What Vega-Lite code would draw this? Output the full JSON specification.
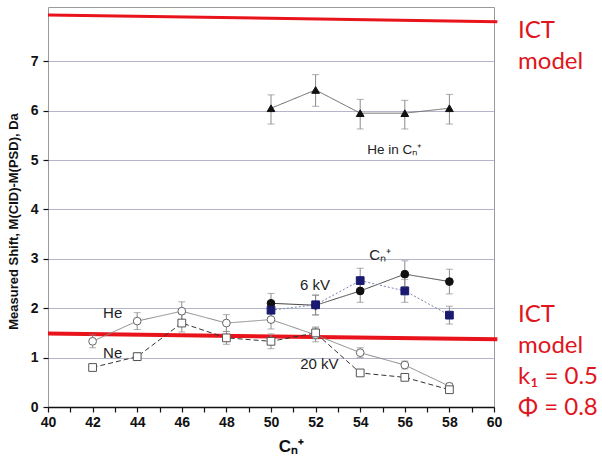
{
  "$schema": "https://vega.github.io/schema/vega-lite/v6.json",
  "width": 446,
  "height": 400,
  "autosize": {"type": "none"},
  "padding": {"left": 48, "top": 7, "right": 108, "bottom": 57},
  "background": "white",
  "config": {"view": {"stroke": "#9a9a9a", "strokeWidth": 1}, "font": "Liberation Sans"},
  "datasets": {
    "obs": [
      {"series": "6 keV, He@Cₙ⁺", "n": 50, "v": 6.05, "lo": 5.73, "hi": 6.32},
      {"series": "6 keV, He@Cₙ⁺", "n": 52, "v": 6.42, "lo": 6.09, "hi": 6.73},
      {"series": "6 keV, He@Cₙ⁺", "n": 54, "v": 5.95, "lo": 5.63, "hi": 6.23},
      {"series": "6 keV, He@Cₙ⁺", "n": 56, "v": 5.95, "lo": 5.63, "hi": 6.21},
      {"series": "6 keV, He@Cₙ⁺", "n": 58, "v": 6.05, "lo": 5.73, "hi": 6.33},
      {"series": "6 keV, target He", "n": 50, "v": 2.10, "lo": 1.90, "hi": 2.30},
      {"series": "6 keV, target He", "n": 52, "v": 2.06, "lo": 1.86, "hi": 2.26},
      {"series": "6 keV, target He", "n": 54, "v": 2.35, "lo": 2.12, "hi": 2.58},
      {"series": "6 keV, target He", "n": 56, "v": 2.69, "lo": 2.44, "hi": 2.96},
      {"series": "6 keV, target He", "n": 58, "v": 2.54, "lo": 2.29, "hi": 2.79},
      {"series": "6 keV, target Ne", "n": 50, "v": 1.96, "lo": 1.80, "hi": 2.12},
      {"series": "6 keV, target Ne", "n": 52, "v": 2.07, "lo": 1.87, "hi": 2.27},
      {"series": "6 keV, target Ne", "n": 54, "v": 2.56, "lo": 2.31, "hi": 2.81},
      {"series": "6 keV, target Ne", "n": 56, "v": 2.35, "lo": 2.12, "hi": 2.58},
      {"series": "6 keV, target Ne", "n": 58, "v": 1.86, "lo": 1.68, "hi": 2.04},
      {"series": "20 keV, target He", "n": 42, "v": 1.33, "lo": 1.20, "hi": 1.46},
      {"series": "20 keV, target He", "n": 44, "v": 1.74, "lo": 1.57, "hi": 1.91},
      {"series": "20 keV, target He", "n": 46, "v": 1.94, "lo": 1.75, "hi": 2.13},
      {"series": "20 keV, target He", "n": 48, "v": 1.70, "lo": 1.53, "hi": 1.87},
      {"series": "20 keV, target He", "n": 50, "v": 1.77, "lo": 1.58, "hi": 1.96},
      {"series": "20 keV, target He", "n": 52, "v": 1.46, "lo": 1.32, "hi": 1.60},
      {"series": "20 keV, target He", "n": 54, "v": 1.10, "lo": 1.00, "hi": 1.20},
      {"series": "20 keV, target He", "n": 56, "v": 0.85, "lo": 0.77, "hi": 0.93},
      {"series": "20 keV, target He", "n": 58, "v": 0.42, "lo": 0.36, "hi": 0.48},
      {"series": "20 keV, target Ne", "n": 42, "v": 0.80, "lo": 0.74, "hi": 0.86},
      {"series": "20 keV, target Ne", "n": 44, "v": 1.02, "lo": 0.94, "hi": 1.10},
      {"series": "20 keV, target Ne", "n": 46, "v": 1.70, "lo": 1.52, "hi": 1.88},
      {"series": "20 keV, target Ne", "n": 48, "v": 1.40, "lo": 1.27, "hi": 1.53},
      {"series": "20 keV, target Ne", "n": 50, "v": 1.33, "lo": 1.18, "hi": 1.48},
      {"series": "20 keV, target Ne", "n": 52, "v": 1.50, "lo": 1.38, "hi": 1.62},
      {"series": "20 keV, target Ne", "n": 54, "v": 0.69, "lo": 0.66, "hi": 0.72},
      {"series": "20 keV, target Ne", "n": 56, "v": 0.60, "lo": 0.57, "hi": 0.63},
      {"series": "20 keV, target Ne", "n": 58, "v": 0.35, "lo": 0.32, "hi": 0.38}
    ],
    "models": [
      {"m": "top", "n": 40, "v": 7.94},
      {"m": "top", "n": 60.15, "v": 7.80},
      {"m": "bottom", "n": 40, "v": 1.49},
      {"m": "bottom", "n": 60.15, "v": 1.37}
    ],
    "notes": [
      {"t": "He", "n": 42.9, "v": 1.9, "size": "big"},
      {"t": "Ne", "n": 42.9, "v": 1.1, "size": "big"},
      {"t": "6 kV", "n": 51.97, "v": 2.48, "size": "big"},
      {"t": "20 kV", "n": 52.17, "v": 0.88, "size": "big"},
      {"t": "Cₙ⁺", "n": 54.9, "v": 3.07, "size": "big"},
      {"t": "He in Cₙ⁺", "n": 55.55, "v": 5.2, "size": "small"}
    ],
    "ict": [
      {"t": "ICT|model", "n": 61.08, "v": 7.61},
      {"t": "ICT|model|k₁ = 0.5|Φ = 0.8", "n": 61.08, "v": 1.86}
    ]
  },
  "encoding": {
    "x": {
      "field": "n", "type": "quantitative",
      "scale": {"domain": [40, 60], "nice": false, "zero": false},
      "axis": {
        "title": "Cₙ⁺",
        "values": [40,41,42,43,44,45,46,47,48,49,50,51,52,53,54,55,56,57,58,59,60],
        "labelExpr": "datum.value % 2 === 0 ? datum.label : ''",
        "grid": false,
        "domainColor": "#111", "domainWidth": 1.5,
        "tickColor": "#111", "tickWidth": 1.2, "tickSize": 5,
        "labelFont": "Liberation Sans", "labelFontSize": 14, "labelFontWeight": "bold", "labelColor": "#111",
        "labelPadding": 3, "labelOverlap": false, "labelFlush": false,
        "titleFont": "Liberation Sans", "titleFontSize": 17, "titleFontWeight": "bold", "titleColor": "#111",
        "titleX": 243, "titleY": 44, "titleBaseline": "alphabetic", "titleAlign": "center"
      }
    },
    "y": {
      "field": "v", "type": "quantitative",
      "scale": {"domain": [0, 8.1], "nice": false},
      "axis": {
        "title": "Measured Shift, M(CID)-M(PSD), Da",
        "values": [0,0.5,1,1.5,2,2.5,3,3.5,4,4.5,5,5.5,6,6.5,7],
        "format": "d",
        "labelExpr": "datum.value % 1 === 0 ? datum.label : ''",
        "domain": false,
        "grid": true,
        "gridColor": {"condition": {"test": "datum.value % 1 !== 0", "value": "#dcdcd4"}, "value": "#b4b4cc"},
        "gridDash": {"condition": {"test": "datum.value % 1 !== 0", "value": [5, 4]}, "value": []},
        "gridWidth": 1,
        "tickColor": "#111", "tickWidth": 1.2, "tickSize": 5,
        "labelFont": "Liberation Sans", "labelFontSize": 14, "labelFontWeight": "bold", "labelColor": "#111",
        "labelPadding": 5, "labelOverlap": false, "labelFlush": false,
        "titleFont": "Liberation Sans", "titleFontSize": 13, "titleFontWeight": "bold", "titleColor": "#111",
        "titleX": -35, "titleY": 214, "titleBaseline": "middle", "titleAlign": "center"
      }
    }
  },
  "layer": [
    {
      "data": {"values": [{}]},
      "mark": {"type": "rule", "color": "#9a9a9a", "strokeWidth": 1.5},
      "encoding": {"x": {"datum": 40}, "y": {"datum": 7}, "y2": {"datum": 8.1}}
    },
    {
      "data": {"values": [{}]},
      "mark": {"type": "rule", "color": "#111", "strokeWidth": 2},
      "encoding": {"x": {"datum": 40}, "y": {"datum": 0}, "y2": {"datum": 7}}
    },
    {
      "data": {"name": "models"},
      "transform": [{"filter": "datum.m === 'top'"}],
      "mark": {"type": "line", "color": "#e8131b", "strokeWidth": 3},
      "encoding": {}
    },
    {
      "data": {"name": "models"},
      "transform": [{"filter": "datum.m === 'bottom'"}],
      "mark": {"type": "line", "color": "#e8131b", "strokeWidth": 4},
      "encoding": {}
    },
    {
      "data": {"name": "obs"},
      "mark": {"type": "errorbar", "color": "#8a8a8a", "thickness": 1, "ticks": {"size": 7, "color": "#8a8a8a"}},
      "encoding": {
        "y": {"field": "lo", "type": "quantitative"},
        "y2": {"field": "hi"},
        "detail": {"field": "series"}
      }
    },
    {
      "data": {"name": "obs"},
      "mark": {"type": "line", "strokeWidth": 1},
      "encoding": {
        "stroke": {
          "field": "series", "type": "nominal", "legend": null,
          "scale": {
            "domain": ["6 keV, He@Cₙ⁺", "6 keV, target He", "6 keV, target Ne", "20 keV, target He", "20 keV, target Ne"],
            "range": ["#666666", "#444444", "#7a80b0", "#888888", "#333333"]
          }
        },
        "strokeDash": {
          "field": "series", "type": "nominal", "legend": null,
          "scale": {
            "domain": ["6 keV, He@Cₙ⁺", "6 keV, target He", "6 keV, target Ne", "20 keV, target He", "20 keV, target Ne"],
            "range": [[1, 0], [1, 0], [2, 2], [1, 0], [5, 3]]
          }
        }
      }
    },
    {
      "data": {"name": "obs"},
      "mark": {"type": "point", "size": 60, "strokeWidth": 1, "opacity": 1},
      "encoding": {
        "shape": {
          "field": "series", "type": "nominal",
          "scale": {
            "domain": ["6 keV, He@Cₙ⁺", "6 keV, target He", "6 keV, target Ne", "20 keV, target He", "20 keV, target Ne"],
            "range": ["triangle-up", "circle", "square", "circle", "square"]
          },
          "legend": {
            "orient": "none", "legendX": 26, "legendY": 103, "title": null,
            "labelFont": "Liberation Sans", "labelFontSize": 15, "labelColor": "#222",
            "encoding": {
              "symbols": {
                "shape": {"value": {"expr": "datum.index === 0 ? 'M-4,0H4M0,-0.9L0.9,0.7L-0.9,0.7Z' : datum.index === 2 ? 'M-4,0H-3.6M-3.2,0H-2.8M-2.4,0H-2M-1.6,0H-1.2M1.2,0H1.6M2,0H2.4M2.8,0H3.2M3.6,0H4M-0.8,-0.8H0.8V0.8H-0.8Z' : datum.index === 4 ? 'M-4,0H-3M-2.2,0H-1.2M1.2,0H2.2M3,0H4M-0.8,-0.8H0.8V0.8H-0.8Z' : 'M-4,0H-0.9M0.9,0H4M0.9,0L0.78,0.45L0.45,0.78L0,0.9L-0.45,0.78L-0.78,0.45L-0.9,0L-0.78,-0.45L-0.45,-0.78L0,-0.9L0.45,-0.78L0.78,-0.45Z'"}},
                "fill": {"value": {"expr": "datum.index === 2 ? '#1a1a70' : datum.index >= 3 ? '#ffffff' : '#111111'"}},
                "stroke": {"value": {"expr": "datum.index === 2 ? '#1a1a70' : datum.index === 3 ? '#555555' : datum.index === 4 ? '#444444' : '#111111'"}},
                "strokeWidth": {"value": 1}
              }
            }
          }
        },
        "fill": {
          "field": "series", "type": "nominal",
          "scale": {
            "domain": ["6 keV, He@Cₙ⁺", "6 keV, target He", "6 keV, target Ne", "20 keV, target He", "20 keV, target Ne"],
            "range": ["#111111", "#111111", "#1a1a70", "#ffffff", "#ffffff"]
          },
          "legend": null
        },
        "stroke": {
          "field": "series", "type": "nominal",
          "scale": {
            "domain": ["6 keV, He@Cₙ⁺", "6 keV, target He", "6 keV, target Ne", "20 keV, target He", "20 keV, target Ne"],
            "range": ["#111111", "#111111", "#1a1a70", "#666666", "#555555"]
          },
          "legend": null
        }
      }
    },
    {
      "data": {"name": "notes"},
      "transform": [{"filter": "datum.size === 'big'"}],
      "mark": {"type": "text", "font": "Liberation Sans", "fontSize": 15, "color": "#222", "align": "center", "baseline": "middle"},
      "encoding": {"text": {"field": "t"}}
    },
    {
      "data": {"name": "notes"},
      "transform": [{"filter": "datum.size === 'small'"}],
      "mark": {"type": "text", "font": "Liberation Sans", "fontSize": 13.5, "color": "#222", "align": "center", "baseline": "middle"},
      "encoding": {"text": {"field": "t"}}
    },
    {
      "data": {"name": "ict"},
      "mark": {"type": "text", "font": "Lato", "fontSize": 24, "color": "#e0151d", "align": "left", "baseline": "middle", "lineBreak": "|", "lineHeight": 31},
      "encoding": {"text": {"field": "t"}}
    }
  ],
  "resolve": {"scale": {"stroke": "independent"}}
}
